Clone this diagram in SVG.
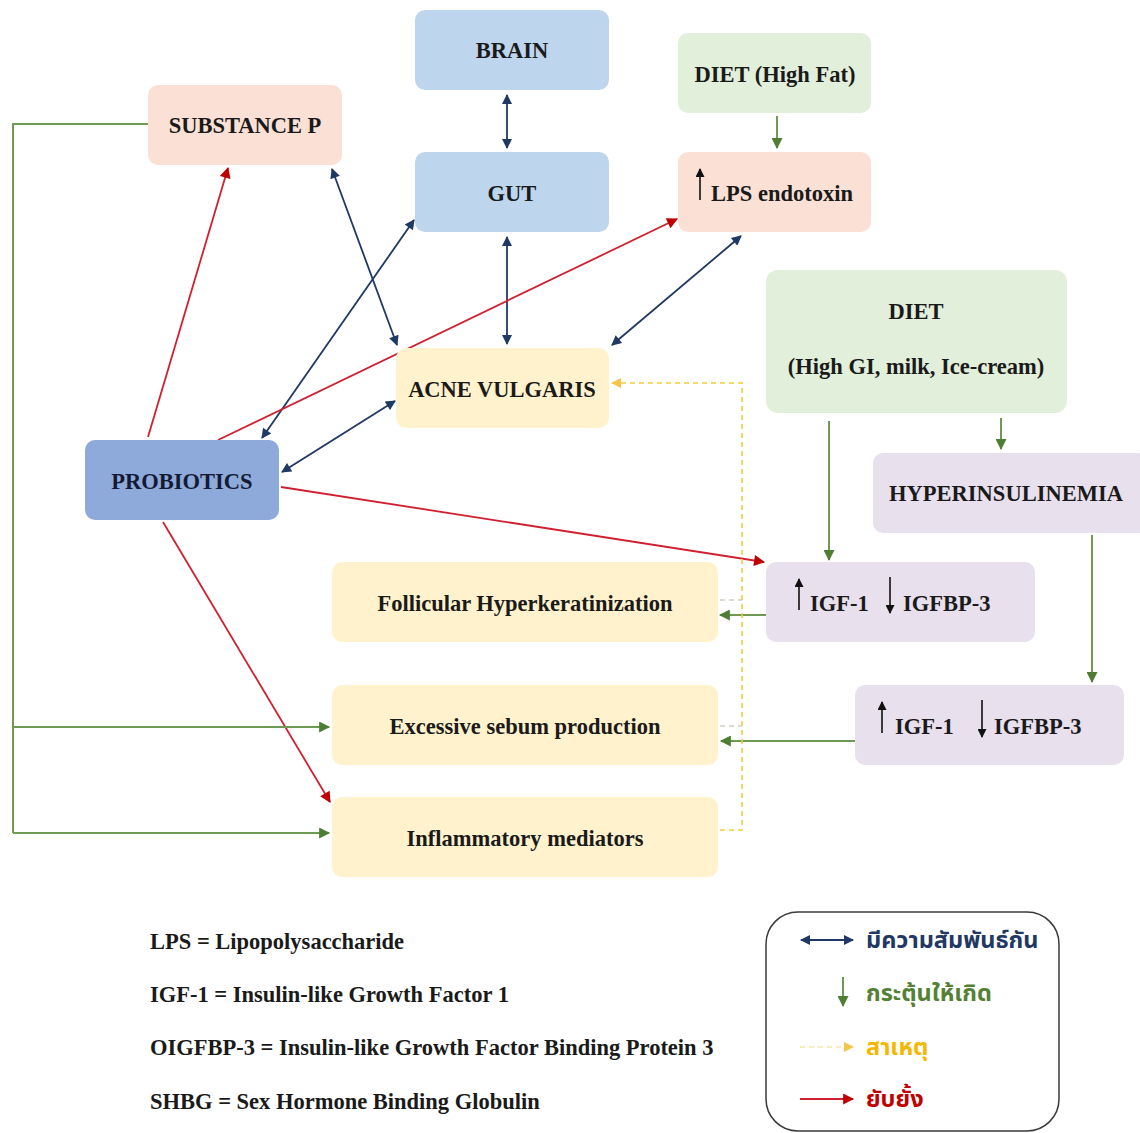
<svg xmlns="http://www.w3.org/2000/svg" width="1140" height="1133" viewBox="0 0 1140 1133">
<defs>
<style>
.n{stroke:none}
.blue{fill:#bdd5ed}
.green{fill:#e2efda}
.peach{fill:#fbe1d5}
.yellow{fill:#fff2cc}
.lav{fill:#e9e0ee}
.prob{fill:#8eaadb}
.t{font-family:"Liberation Serif","Times New Roman",serif;font-weight:bold;font-size:22.5px;fill:#1a1a1a}
.tc{text-anchor:middle}
.nv{stroke:#1f3864;stroke-width:1.8;fill:none;marker-start:url(#nvA);marker-end:url(#nvA)}
.rd{stroke:#d02030;stroke-width:1.8;fill:none;marker-end:url(#rdA)}
.gr{stroke:#6e9a55;stroke-width:2;fill:none;marker-end:url(#grA)}
.grl{stroke:#6e9a55;stroke-width:2;fill:none}
.yd{stroke:#f2cd3a;stroke-width:1.6;fill:none;stroke-dasharray:5 4}
.gd{stroke:#b8b8a8;stroke-width:1.2;fill:none;stroke-dasharray:5 4}
.bk{stroke:#111;stroke-width:1.6;fill:none;marker-end:url(#bkA)}
.th{font-family:"Noto Sans Thai","Noto Sans","DejaVu Sans",sans-serif;font-weight:bold;font-size:23.5px}
</style>
<marker id="nvA" viewBox="0 0 10 10" refX="9" refY="5" markerWidth="12" markerHeight="10" markerUnits="userSpaceOnUse" orient="auto-start-reverse"><path d="M0,0 L10,5 L0,10 z" fill="#1f3864"/></marker>
<marker id="rdA" viewBox="0 0 10 10" refX="9" refY="5" markerWidth="13" markerHeight="11" markerUnits="userSpaceOnUse" orient="auto"><path d="M0,0 L10,5 L0,10 z" fill="#c00000"/></marker>
<marker id="grA" viewBox="0 0 10 10" refX="9" refY="5" markerWidth="13" markerHeight="11" markerUnits="userSpaceOnUse" orient="auto"><path d="M0,0 L10,5 L0,10 z" fill="#4f7d33"/></marker>
<marker id="ydA" viewBox="0 0 10 10" refX="9" refY="5" markerWidth="12" markerHeight="10" markerUnits="userSpaceOnUse" orient="auto"><path d="M0,0 L10,5 L0,10 z" fill="#f5c64a"/></marker>
<marker id="bkA" viewBox="0 0 10 10" refX="9" refY="5" markerWidth="10" markerHeight="9" markerUnits="userSpaceOnUse" orient="auto"><path d="M0,0 L10,5 L0,10 z" fill="#111"/></marker>
</defs>
<rect width="1140" height="1133" fill="#ffffff"/>

<g id="connectors">
<line class="nv" x1="507" y1="95" x2="507" y2="148"/>
<line class="nv" x1="507" y1="237" x2="507" y2="344"/>
<line class="nv" x1="332" y1="169" x2="397" y2="345"/>
<line class="nv" x1="262" y1="438" x2="414" y2="220"/>
<line class="nv" x1="282" y1="472" x2="395" y2="401"/>
<line class="nv" x1="741" y1="236" x2="612" y2="345"/>
<line class="rd" x1="148" y1="437" x2="228" y2="168"/>
<line class="rd" x1="218" y1="440" x2="677" y2="219"/>
<line class="rd" x1="281" y1="487" x2="764" y2="562"/>
<line class="rd" x1="163" y1="522" x2="330" y2="802"/>
<line class="gr" x1="777" y1="116" x2="777" y2="148"/>
<line class="gr" x1="829" y1="421" x2="829" y2="560"/>
<line class="gr" x1="1001" y1="418" x2="1001" y2="449"/>
<line class="gr" x1="1092" y1="535" x2="1092" y2="682"/>
<line class="gr" x1="766" y1="615" x2="720" y2="615"/>
<line class="gr" x1="855" y1="741" x2="721" y2="741"/>
<polyline class="grl" points="148,124 13,124 13,833"/>
<line class="gr" x1="13" y1="833" x2="329" y2="833"/>
<line class="gr" x1="13" y1="727" x2="329" y2="727"/>
<polyline class="yd" points="720,830 742,830 742,383 612,383" marker-end="url(#ydA)"/>
<line class="gd" x1="720" y1="600" x2="742" y2="600"/>
<line class="gd" x1="720" y1="726" x2="742" y2="726"/>
</g>

<g id="brain"><rect class="blue" x="415" y="10" width="194" height="80" rx="10"/><text class="t tc" x="512" y="58">BRAIN</text></g>
<g id="gut"><rect class="blue" x="415" y="152" width="194" height="80" rx="10"/><text class="t tc" x="512" y="201">GUT</text></g>
<g id="diet-fat"><rect class="green" x="678" y="33" width="193" height="80" rx="10"/><text class="t tc" x="775" y="82">DIET (High Fat)</text></g>
<g id="lps"><rect class="peach" x="678" y="152" width="193" height="80" rx="10"/><line class="bk" x1="700" y1="200" x2="700" y2="169"/><text class="t" x="711" y="201">LPS endotoxin</text></g>
<g id="substance-p"><rect class="peach" x="148" y="85" width="194" height="80" rx="10"/><text class="t tc" x="245" y="133">SUBSTANCE P</text></g>
<g id="acne"><rect class="yellow" x="396" y="348" width="213" height="80" rx="10"/><text class="t tc" x="502" y="397">ACNE VULGARIS</text></g>
<g id="diet-gi"><rect class="green" x="766" y="270" width="301" height="143" rx="12"/><text class="t tc" x="916" y="319">DIET</text><text class="t tc" x="916" y="374">(High GI, milk, Ice-cream)</text></g>
<g id="hyperinsulinemia"><rect class="lav" x="873" y="453" width="275" height="80" rx="10"/><text class="t tc" x="1006" y="501">HYPERINSULINEMIA</text></g>
<g id="probiotics"><rect class="prob" x="85" y="440" width="194" height="80" rx="10"/><text class="t tc" x="182" y="489" style="fill:#141a33">PROBIOTICS</text></g>
<g id="igf1"><rect class="lav" x="766" y="562" width="269" height="80" rx="10"/><line class="bk" x1="799" y1="610" x2="799" y2="579"/><text class="t" x="810" y="611">IGF-1</text><line class="bk" x1="890" y1="577" x2="890" y2="613"/><text class="t" x="903" y="611">IGFBP-3</text></g>
<g id="igf2"><rect class="lav" x="855" y="685" width="269" height="80" rx="10"/><line class="bk" x1="882" y1="733" x2="882" y2="702"/><text class="t" x="895" y="734">IGF-1</text><line class="bk" x1="982" y1="700" x2="982" y2="737"/><text class="t" x="994" y="734">IGFBP-3</text></g>
<g id="follicular"><rect class="yellow" x="332" y="562" width="386" height="80" rx="10"/><text class="t tc" x="525" y="611">Follicular Hyperkeratinization</text></g>
<g id="sebum"><rect class="yellow" x="332" y="685" width="386" height="80" rx="10"/><text class="t tc" x="525" y="734">Excessive sebum production</text></g>
<g id="inflammatory"><rect class="yellow" x="332" y="797" width="386" height="80" rx="10"/><text class="t tc" x="525" y="846">Inflammatory mediators</text></g>

<g id="abbreviations">
<text class="t" x="150" y="949">LPS = Lipopolysaccharide</text>
<text class="t" x="150" y="1002">IGF-1 = Insulin-like Growth Factor 1</text>
<text class="t" x="150" y="1055">OIGFBP-3 = Insulin-like Growth Factor Binding Protein 3</text>
<text class="t" x="150" y="1109">SHBG = Sex Hormone Binding Globulin</text>
</g>

<g id="legend">
<rect x="766" y="912" width="293" height="219" rx="32" fill="none" stroke="#3a3a3a" stroke-width="1.5"/>
<line class="nv" x1="801" y1="940" x2="853" y2="940"/>
<text class="th" x="866" y="948" fill="#1f3864">มีความสัมพันธ์กัน</text>
<line class="gr" x1="843" y1="977" x2="843" y2="1006"/>
<text class="th" x="866" y="1001" fill="#548235">กระตุ้นให้เกิด</text>
<line class="yd" x1="800" y1="1047" x2="853" y2="1047" marker-end="url(#ydA)" style="stroke:#fbe7a0"/>
<text class="th" x="866" y="1055" fill="#f5b800">สาเหตุ</text>
<line class="rd" x1="800" y1="1099" x2="853" y2="1099"/>
<text class="th" x="866" y="1107" fill="#c00000">ยับยั้ง</text>
</g>
</svg>
